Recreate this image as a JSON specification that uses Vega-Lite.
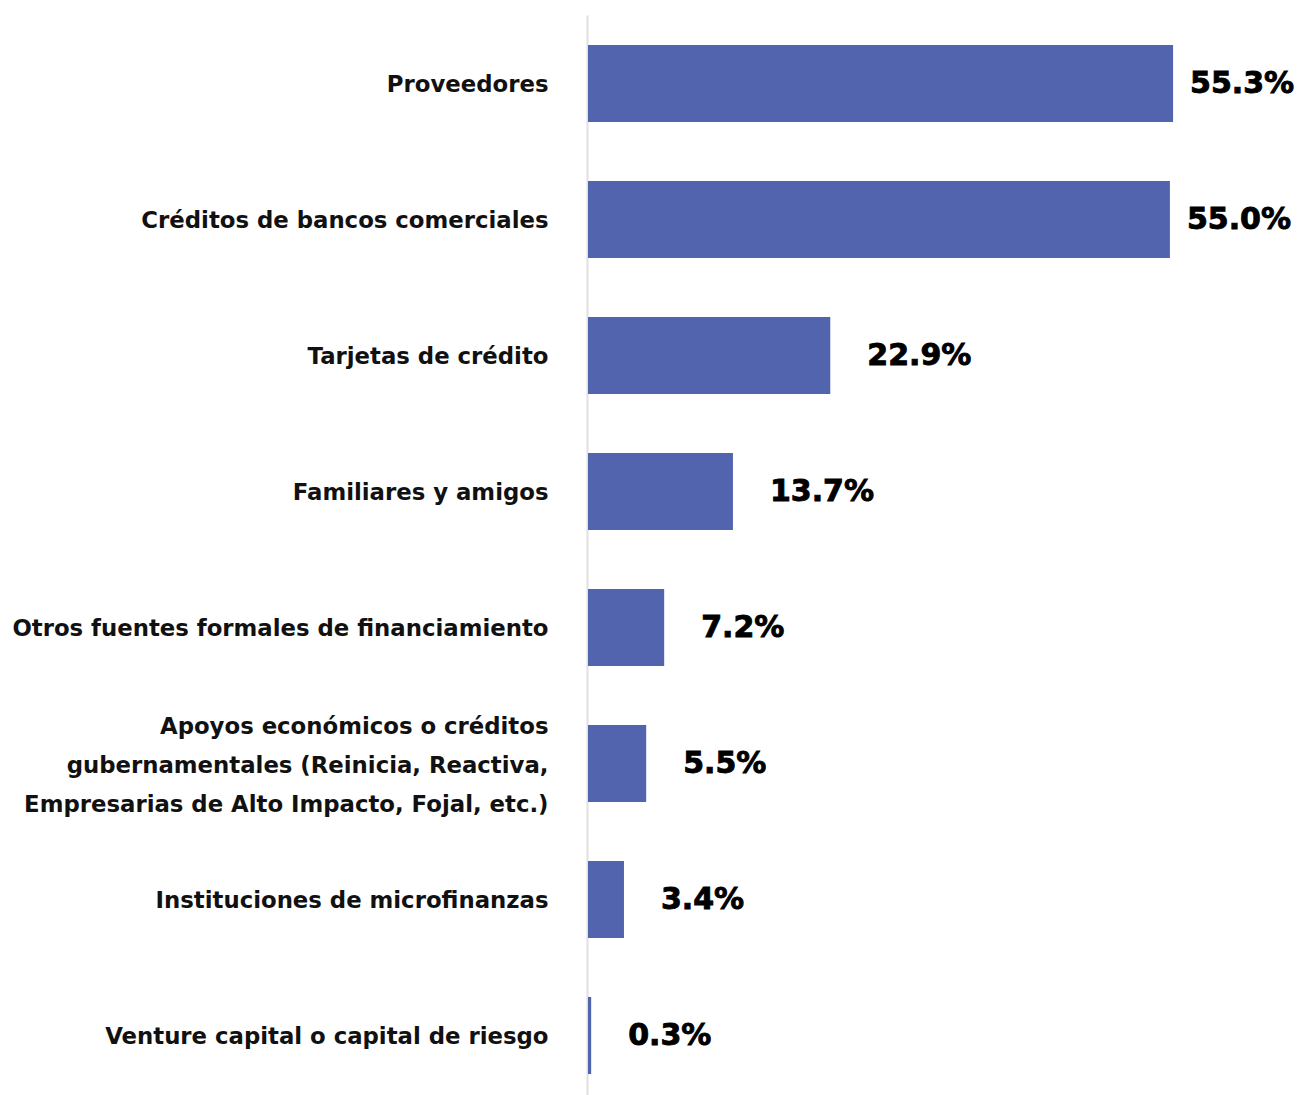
{
  "$schema": "https://vega.github.io/schema/vega-lite/v6.json",
  "autosize": "none",
  "width": 715,
  "height": 1080,
  "padding": {"left": 588, "top": 15, "right": 0, "bottom": 0},
  "background": "white",
  "data": {"values": [
    {"fuente": "Proveedores", "valor": 55.3},
    {"fuente": "Créditos de bancos comerciales", "valor": 55.0},
    {"fuente": "Tarjetas de crédito", "valor": 22.9},
    {"fuente": "Familiares y amigos", "valor": 13.7},
    {"fuente": "Otros fuentes formales de financiamiento", "valor": 7.2},
    {"fuente": "Apoyos económicos o créditos|gubernamentales (Reinicia, Reactiva,|Empresarias de Alto Impacto, Fojal, etc.)", "valor": 5.5},
    {"fuente": "Instituciones de microfinanzas", "valor": 3.4},
    {"fuente": "Venture capital o capital de riesgo", "valor": 0.3}
  ]},
  "encoding": {
    "y": {
      "field": "fuente", "type": "nominal", "sort": null,
      "scale": {"paddingInner": 0.4338, "paddingOuter": 0.1875, "align": 0.588},
      "axis": {
        "title": null, "ticks": false, "offset": 1,
        "domainColor": "#e0e0e0", "domainWidth": 2,
        "labelExpr": "split(datum.label, '|')",
        "labelFont": "DejaVu Sans", "labelFontSize": 22.8, "labelFontWeight": "bold",
        "labelColor": "#111111", "labelPadding": 39, "labelLineHeight": 39,
        "labelOffset": {"condition": {"test": "indexof(datum.value, '|') >= 0", "value": -36}, "value": 2},
        "labelLimit": 600
      }
    },
    "x": {
      "field": "valor", "type": "quantitative",
      "scale": {"domain": [0, 67.58], "nice": false, "zero": true},
      "axis": null
    }
  },
  "layer": [
    {"mark": {"type": "bar", "color": "#5164AD"}},
    {
      "transform": [{"filter": "datum.valor > 50"}],
      "mark": {"type": "text", "align": "left", "baseline": "middle", "dx": 17, "dy": 1, "font": "DejaVu Sans", "fontSize": 30, "fontWeight": "bold", "color": "#000000", "stroke": "#000000", "strokeWidth": 0.9, "text": {"expr": "format(datum.valor, '.1f') + '%'"}}
    },
    {
      "transform": [{"filter": "datum.valor <= 50"}],
      "mark": {"type": "text", "align": "left", "baseline": "middle", "dx": 37, "dy": 1, "font": "DejaVu Sans", "fontSize": 30, "fontWeight": "bold", "color": "#000000", "stroke": "#000000", "strokeWidth": 0.9, "text": {"expr": "format(datum.valor, '.1f') + '%'"}}
    }
  ],
  "config": {"view": {"stroke": null}}
}
